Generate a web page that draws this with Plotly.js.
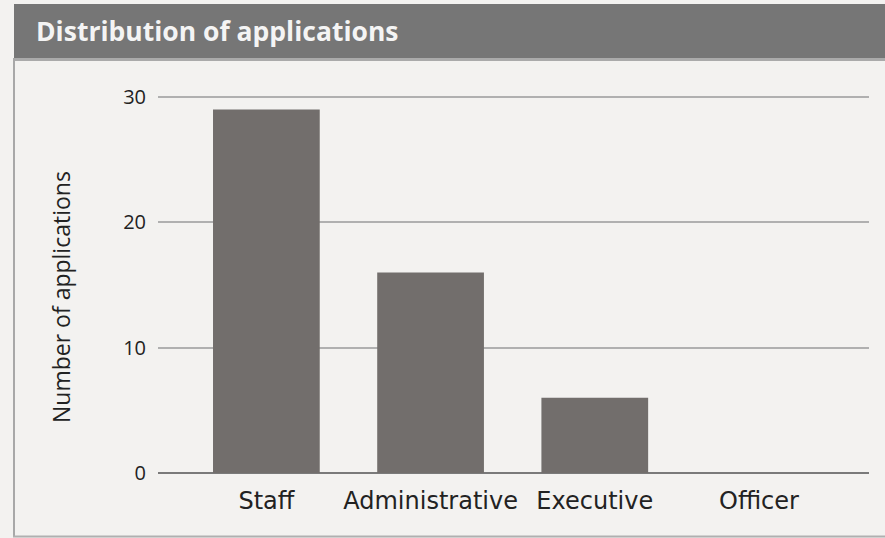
<!DOCTYPE html>
<html>
<head>
<meta charset="utf-8">
<script src="https://cdn.plot.ly/plotly-3.0.1.min.js"></script>
<style>
  html, body { margin: 0; padding: 0; background: #f3f2f0; }
  #chart { width: 885px; height: 538px; }
</style>
</head>
<body>
<div id="chart"></div>
<script>
const categories = ["Staff", "Administrative", "Executive", "Officer"];
const applications = [29, 16, 6, 0];
const yTicks = [0, 10, 20, 30];
const chartTitle = "Distribution of applications";
const yTitle = "Number of applications";

const W = 885, H = 538;
const m = { l: 158, r: 16, t: 85, b: 65 };
const pw = W - m.l - m.r, ph = H - m.t - m.b;
const px = x => (x - m.l) / pw;
const py = y => (H - m.b - y) / ph;

const trace = {
  type: "bar",
  x: categories,
  y: applications,
  marker: { color: "#726e6c", line: { width: 0 } },
  hoverinfo: "x+y"
};

const layout = {
  width: W, height: H,
  margin: m,
  paper_bgcolor: "#f3f2f0",
  plot_bgcolor: "#f3f2f0",
  bargap: 0.35,
  showlegend: false,
  xaxis: {
    type: "category",
    range: [-0.66, 3.67],
    showgrid: false,
    zeroline: false,
    showline: false,
    ticks: "",
    ticklabelstandoff: 11,
    tickfont: { family: "DejaVu Sans", size: 24, color: "#222222" },
    fixedrange: true
  },
  yaxis: {
    range: [0, 30.96],
    tickvals: yTicks,
    ticktext: yTicks.map(String),
    showgrid: true,
    gridcolor: "#b0b0b0",
    gridwidth: 2,
    zeroline: true,
    zerolinecolor: "#7a7a7a",
    zerolinewidth: 2,
    showline: false,
    ticks: "",
    ticklabelstandoff: 11,
    tickfont: { family: "Open Sans", size: 20, color: "#222222" },
    fixedrange: true
  },
  shapes: [
    { type: "rect", xref: "paper", yref: "paper", layer: "below",
      x0: px(14), x1: px(886), y0: py(60), y1: py(4),
      fillcolor: "#767676", line: { width: 0 } },
    { type: "line", xref: "paper", yref: "paper", layer: "below",
      x0: px(14), x1: px(886), y0: py(59.5), y1: py(59.5),
      line: { color: "#aaaaaa", width: 3 } },
    { type: "line", xref: "paper", yref: "paper", layer: "below",
      x0: px(14), x1: px(14), y0: py(58), y1: py(537),
      line: { color: "#a8a8a8", width: 2 } },
    { type: "line", xref: "paper", yref: "paper", layer: "below",
      x0: px(13), x1: px(886), y0: py(536.5), y1: py(536.5),
      line: { color: "#b0b0b0", width: 2 } }
  ],
  annotations: [
    { text: "<b>" + chartTitle + "</b>", xref: "paper", yref: "paper",
      x: px(34), y: py(31), xanchor: "left", yanchor: "middle", showarrow: false,
      font: { family: "Open Sans", size: 26.5, color: "#f4f4f4" } },
    { text: yTitle, xref: "paper", yref: "paper",
      x: px(61), y: py(297), xanchor: "center", yanchor: "middle", showarrow: false,
      textangle: -90,
      font: { family: "Open Sans", size: 23, color: "#222222" } }
  ]
};

Plotly.newPlot("chart", [trace], layout, { displayModeBar: false, staticPlot: true });
</script>
</body>
</html>
